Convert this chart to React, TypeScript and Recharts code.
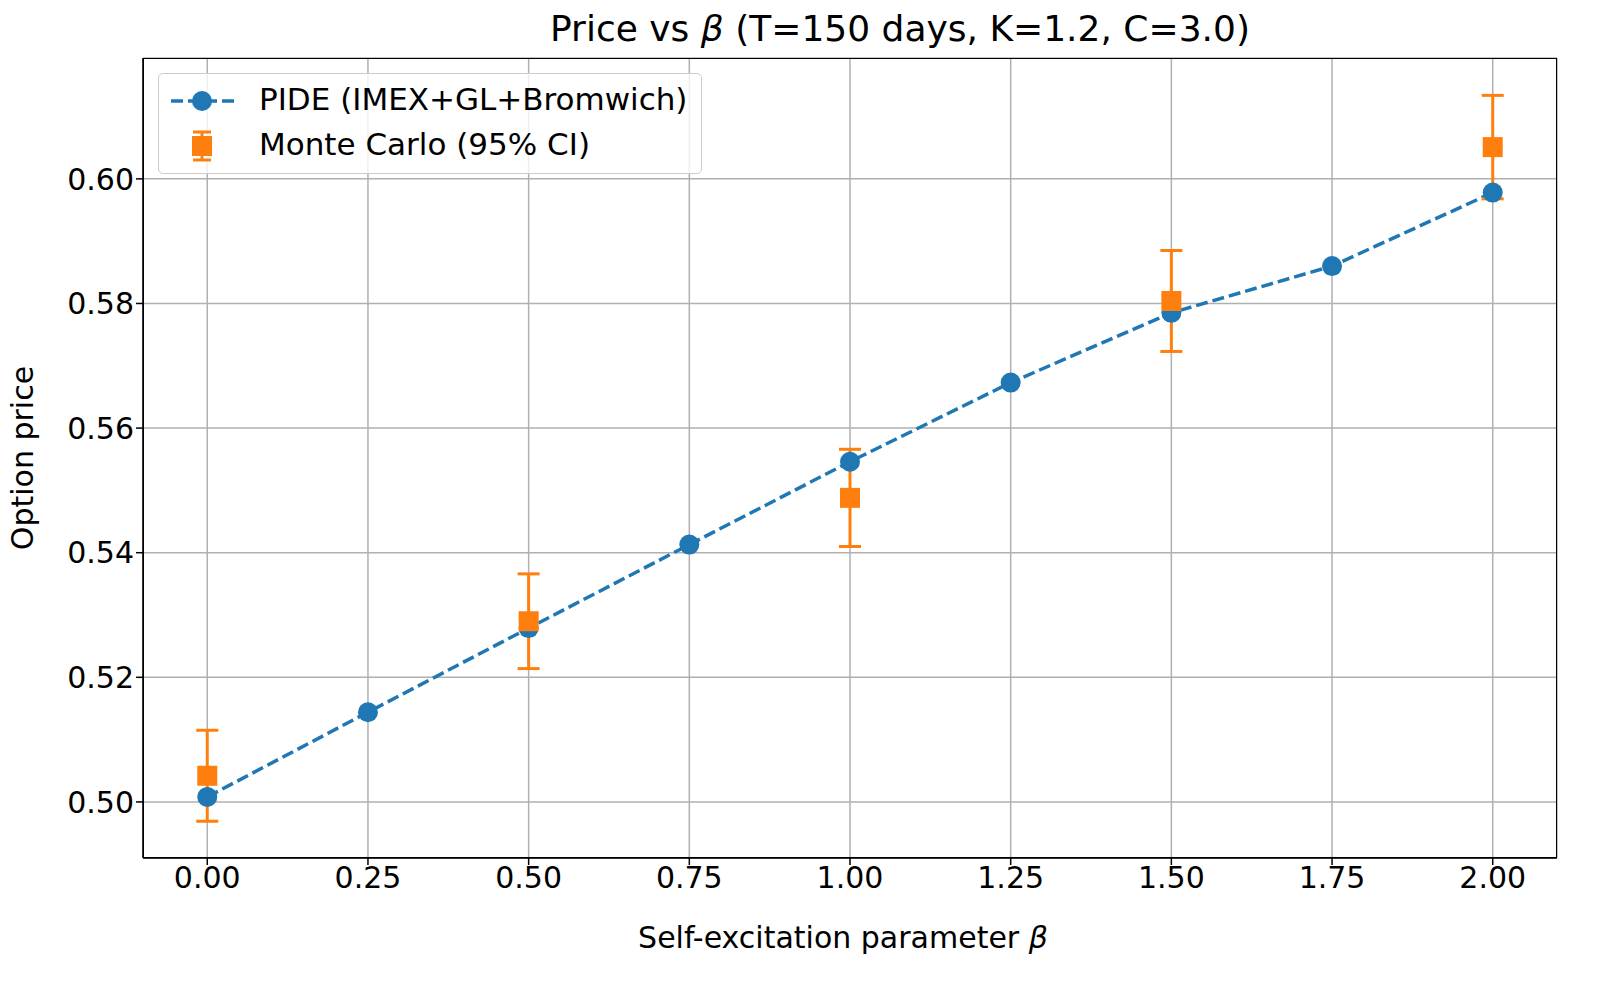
import React from "react";
import { ComposedChart, Line, XAxis, YAxis, CartesianGrid, ErrorBar } from "recharts";

const betas = [0, 0.25, 0.5, 0.75, 1.0, 1.25, 1.5, 1.75, 2.0];
const pide = [0.5008, 0.5144, 0.5279, 0.5413, 0.5546, 0.5673, 0.5785, 0.586, 0.5978];
const mc = [0.5042, null, 0.529, null, 0.5488, null, 0.5804, null, 0.6051];
const mcErr = [0.0073, null, 0.0076, null, 0.0078, null, 0.0081, null, 0.0083];
const xTicks = [0, 0.25, 0.5, 0.75, 1.0, 1.25, 1.5, 1.75, 2.0];
const yTicks = [0.5, 0.52, 0.54, 0.56, 0.58, 0.6];

const data = betas.map((b, i) => ({ beta: b, pide: pide[i], mc: mc[i], err: mcErr[i] }));

const font = "DejaVu Sans, sans-serif";
const BLUE = "#1f77b4";
const ORANGE = "#ff7f0e";

const Square = (p: any) => {
  if (p.cx == null || p.cy == null || p.value == null) return null;
  return <rect x={p.cx - 10} y={p.cy - 10} width={20} height={20} fill={ORANGE} />;
};

export default function App() {
  return (
    <div style={{ position: "relative", width: 1584, height: 966, fontFamily: font, color: "#000" }}>
      <div style={{ position: "absolute", top: 0, left: 542, width: 600, marginLeft: -300, textAlign: "center", fontSize: 36, whiteSpace: "nowrap" }}>
        <div style={{ position: "absolute", left: 0, right: 0, textAlign: "center", transform: "translateX(300px)" }}>
          Price vs <i>β</i> (T=150 days, K=1.2, C=3.0)
        </div>
      </div>
      <ComposedChart width={1584} height={960} data={data} margin={{ top: 50, right: 35, left: 10, bottom: 20 }}>
        <CartesianGrid stroke="#b0b0b0" strokeWidth={1.5} />
        <XAxis
          dataKey="beta" type="number" domain={[-0.1, 2.1]} ticks={xTicks}
          tickFormatter={(v: number) => v.toFixed(2)} height={90} tickSize={7}
          stroke="#000" strokeWidth={1.5} interval={0}
          tick={{ fontSize: 30, fill: "#000", fontFamily: font }}
        />
        <YAxis
          type="number" domain={[0.491, 0.6194]} ticks={yTicks}
          tickFormatter={(v: number) => v.toFixed(2)} width={125} tickSize={7}
          stroke="#000" strokeWidth={1.5} interval={0}
          tick={{ fontSize: 30, fill: "#000", fontFamily: font }}
        />
        <Line dataKey="pide" stroke={BLUE} strokeWidth={3.5} strokeDasharray="12 5" isAnimationActive={false}
          dot={{ r: 10, fill: BLUE, stroke: BLUE, strokeWidth: 0, strokeDasharray: "" }} />
        <Line dataKey="mc" stroke="none" isAnimationActive={false} dot={<Square />} activeDot={false} connectNulls={false}>
          <ErrorBar dataKey="err" direction="y" width={11} stroke={ORANGE} strokeWidth={3} />
        </Line>
      </ComposedChart>
      <div style={{ position: "absolute", left: 135, top: 50, width: 1414, height: 800, border: "1.5px solid #000", boxSizing: "border-box", pointerEvents: "none" }} />
      <div style={{ position: "absolute", left: 835, top: 912, transform: "translateX(-50%)", fontSize: 30, whiteSpace: "nowrap" }}>
        Self-excitation parameter <i>β</i>
      </div>
      <div style={{ position: "absolute", left: 14, top: 450, transform: "translate(-50%, -50%) rotate(-90deg)", fontSize: 30, whiteSpace: "nowrap" }}>
        Option price
      </div>
      <div style={{ position: "absolute", left: 150, top: 65, width: 544, height: 101, border: "1.5px solid #ccc", borderRadius: 5, background: "rgba(255,255,255,0.8)", boxSizing: "border-box" }}>
        <svg width={90} height={101} style={{ position: "absolute", left: 0, top: 0 }}>
          <line x1={12} y1={27} x2={77} y2={27} stroke={BLUE} strokeWidth={3.5} strokeDasharray="12 5" />
          <circle cx={43} cy={27} r={10} fill={BLUE} />
          <line x1={43} y1={58} x2={43} y2={86} stroke={ORANGE} strokeWidth={3} />
          <line x1={34} y1={58} x2={52} y2={58} stroke={ORANGE} strokeWidth={3} />
          <line x1={34} y1={86} x2={52} y2={86} stroke={ORANGE} strokeWidth={3} />
          <rect x={33} y={62} width={20} height={20} fill={ORANGE} />
        </svg>
        <div style={{ position: "absolute", left: 100, top: 7, fontSize: 31, whiteSpace: "nowrap" }}>PIDE (IMEX+GL+Bromwich)</div>
        <div style={{ position: "absolute", left: 100, top: 52, fontSize: 31, whiteSpace: "nowrap" }}>Monte Carlo (95% CI)</div>
      </div>
    </div>
  );
}
